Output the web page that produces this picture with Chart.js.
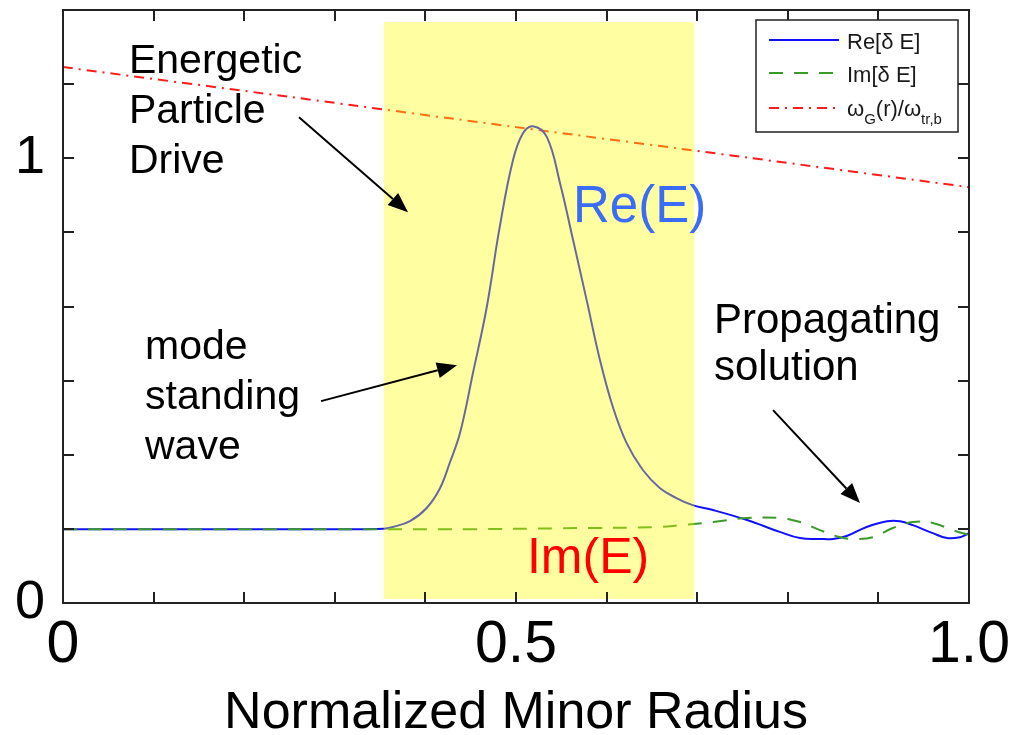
<!DOCTYPE html>
<html>
<head>
<meta charset="utf-8">
<script src="https://cdn.jsdelivr.net/npm/chart.js@4.4.1/dist/chart.umd.min.js"></script>
<style>
  html, body { margin: 0; padding: 0; background: #fff; }
  #wrap { width: 1021px; height: 735px; }
</style>
</head>
<body>
<div id="wrap"><canvas id="c" width="1021" height="735"></canvas></div>
<script>
// Radial profiles of the perturbed field and the drive frequency ratio
const reX = [0, 0.10, 0.20, 0.30, 0.354, 0.364, 0.383, 0.4014, 0.4161, 0.4272, 0.4382, 0.4525, 0.4677, 0.482, 0.4967, 0.5077, 0.5188, 0.534, 0.5486, 0.563, 0.578, 0.5927, 0.607, 0.622, 0.640, 0.659, 0.677, 0.695, 0.7174, 0.755, 0.791, 0.8135, 0.8355, 0.850, 0.865, 0.887, 0.9095, 0.924, 0.938, 0.960, 0.9757, 0.990, 1.0];
const reY = [0.166, 0.166, 0.166, 0.166, 0.167, 0.171, 0.184, 0.2135, 0.258, 0.317, 0.382, 0.517, 0.665, 0.845, 0.996, 1.056, 1.072, 1.048, 0.944, 0.816, 0.681, 0.546, 0.440, 0.360, 0.299, 0.258, 0.236, 0.220, 0.209, 0.1865, 0.160, 0.146, 0.144, 0.144, 0.1506, 0.171, 0.184, 0.184, 0.175, 0.157, 0.146, 0.148, 0.157];

const imX = [0, 0.15, 0.30, 0.45, 0.55, 0.659, 0.681, 0.7174, 0.755, 0.7914, 0.8135, 0.8355, 0.8576, 0.8764, 0.894, 0.916, 0.938, 0.960, 0.982, 1.0];
const imY = [0.166, 0.166, 0.166, 0.166, 0.168, 0.171, 0.175, 0.182, 0.191, 0.191, 0.182, 0.164, 0.148, 0.144, 0.148, 0.1685, 0.182, 0.180, 0.164, 0.153];

const omegaX = [0, 0.25, 0.5, 0.75, 1.0];
const omegaY = [1.205, 1.138, 1.070, 1.003, 0.935];

// Axis ticks and the few that carry labels
const xTickValues = [0, 0.1, 0.2, 0.3, 0.4, 0.5, 0.6, 0.7, 0.8, 0.9, 1.0];
const xLabelAt = [0, 0.5, 1.0];
const xLabelText = ['0', '0.5', '1.0'];
const yTickValues = [0, 1/6, 2/6, 3/6, 4/6, 5/6, 1, 7/6, 8/6];
const yLabelAt = [0, 1];
const yLabelText = ['0', '1'];

// Radial window where the energetic particles drive the mode
const driveRegion = [0.354, 0.697];
const driveSpan = [0.009, 1.306];

const seriesNames = ['Re[\u03b4 E]', 'Im[\u03b4 E]'];

const FONT = '"Liberation Sans", Arial, Helvetica, sans-serif';

const pairs = (xs, ys) => xs.map((x, i) => ({ x, y: ys[i] }));
const labelFor = (v, at, txt) => {
  const i = at.findIndex(a => Math.abs(a - v) < 1e-6);
  return i >= 0 ? txt[i] : '';
};

// Text callouts, anchored in data coordinates
const notes = [
  { lines: ['Energetic', 'Particle', 'Drive'], at: [0.0728, 1.191], size: 41, lh: 50, color: '#000' },
  { lines: ['mode', 'standing', 'wave'], at: [0.0905, 0.548], size: 41, lh: 50, color: '#000' },
  { lines: ['Propagating', 'solution'], at: [0.7185, 0.6067], size: 42, lh: 47, color: '#000' },
  { lines: ['Re(E)'], at: [0.5629, 0.856], size: 51, lh: 0, color: '#3b6cf6' },
  { lines: ['Im(E)'], at: [0.5121, 0.0674], size: 50, lh: 0, color: '#ff0000' }
];
const arrows = [
  { from: [0.2605, 1.092], to: [0.3808, 0.8787] },
  { from: [0.2848, 0.4539], to: [0.4349, 0.5348] },
  { from: [0.7837, 0.4337], to: [0.8797, 0.2247] }
];

function drawArrow(ctx, x1, y1, x2, y2) {
  const ang = Math.atan2(y2 - y1, x2 - x1);
  const hl = 20, hw = 8;
  const bx = x2 - hl * Math.cos(ang), by = y2 - hl * Math.sin(ang);
  ctx.beginPath();
  ctx.moveTo(x1, y1);
  ctx.lineTo(bx, by);
  ctx.lineWidth = 2;
  ctx.strokeStyle = '#000';
  ctx.stroke();
  ctx.beginPath();
  ctx.moveTo(x2, y2);
  ctx.lineTo(bx + hw * Math.sin(ang), by - hw * Math.cos(ang));
  ctx.lineTo(bx - hw * Math.sin(ang), by + hw * Math.cos(ang));
  ctx.closePath();
  ctx.fillStyle = '#000';
  ctx.fill();
}

const overlay = {
  id: 'overlay',
  afterDatasetsDraw(chart) {
    const { ctx, scales: { x, y } } = chart;
    const x0 = x.getPixelForValue(driveRegion[0]);
    const x1 = x.getPixelForValue(driveRegion[1]);
    const yT = y.getPixelForValue(driveSpan[1]);
    const yB = y.getPixelForValue(driveSpan[0]);
    ctx.save();
    ctx.fillStyle = 'rgba(255,255,0,0.37)';
    ctx.fillRect(x0, yT, x1 - x0, yB - yT);
    ctx.restore();
  },
  afterDraw(chart) {
    const { ctx, chartArea: a, scales: { x, y } } = chart;
    ctx.save();
    // box and inward ticks on all four sides
    ctx.strokeStyle = '#222';
    ctx.lineWidth = 2;
    ctx.strokeRect(a.left, a.top, a.right - a.left, a.bottom - a.top);
    const tl = 11;
    ctx.beginPath();
    xTickValues.slice(1, -1).forEach(v => {
      const px = Math.round(x.getPixelForValue(v));
      ctx.moveTo(px, a.bottom); ctx.lineTo(px, a.bottom - tl);
      ctx.moveTo(px, a.top); ctx.lineTo(px, a.top + tl);
    });
    yTickValues.slice(1, -1).forEach(v => {
      const py = Math.round(y.getPixelForValue(v));
      ctx.moveTo(a.left, py); ctx.lineTo(a.left + tl, py);
      ctx.moveTo(a.right, py); ctx.lineTo(a.right - tl, py);
    });
    ctx.stroke();

    // callouts
    ctx.textBaseline = 'alphabetic';
    ctx.textAlign = 'left';
    notes.forEach(n => {
      ctx.font = n.size + 'px ' + FONT;
      ctx.fillStyle = n.color;
      const px = x.getPixelForValue(n.at[0]);
      const py = y.getPixelForValue(n.at[1]);
      n.lines.forEach((t, i) => ctx.fillText(t, px, py + i * n.lh));
    });
    arrows.forEach(r => drawArrow(ctx,
      x.getPixelForValue(r.from[0]), y.getPixelForValue(r.from[1]),
      x.getPixelForValue(r.to[0]), y.getPixelForValue(r.to[1])));

    // legend box
    const lw = 202, lh = 112;
    const lx = a.right - 11 - lw, ly = a.top + 10;
    ctx.fillStyle = '#fff';
    ctx.fillRect(lx, ly, lw, lh);
    ctx.lineWidth = 1.5;
    ctx.strokeStyle = '#222';
    ctx.strokeRect(lx, ly, lw, lh);
    const rows = [20, 53, 88];
    chart.data.datasets.forEach((ds, i) => {
      const cy = ly + rows[i];
      ctx.beginPath();
      ctx.setLineDash(ds.borderDash || []);
      ctx.strokeStyle = ds.borderColor;
      ctx.lineWidth = 2;
      ctx.moveTo(lx + 13, cy);
      ctx.lineTo(lx + 83, cy);
      ctx.stroke();
      ctx.setLineDash([]);
    });
    ctx.fillStyle = '#1a1a1a';
    ctx.font = '22px ' + FONT;
    const tx = lx + 91;
    ctx.fillText(seriesNames[0], tx, ly + rows[0] + 9);
    ctx.fillText(seriesNames[1], tx, ly + rows[1] + 9);
    // omega_G(r)/omega_tr,b with subscripts
    let cx = tx;
    const by = ly + rows[2] + 8;
    const part = (t, sub) => {
      ctx.font = (sub ? 15 : 22) + 'px ' + FONT;
      ctx.fillText(t, cx, by + (sub ? 8 : 0));
      cx += ctx.measureText(t).width;
    };
    part('\u03c9', false); part('G', true); part('(r)/\u03c9', false); part('tr,b', true);
    ctx.restore();
  }
};

new Chart(document.getElementById('c'), {
  type: 'line',
  data: {
    datasets: [
      {
        label: seriesNames[0],
        data: pairs(reX, reY),
        borderColor: '#1010ff',
        borderWidth: 2,
        pointRadius: 0,
        tension: 0.4,
        fill: false,
        order: 1
      },
      {
        label: seriesNames[1],
        data: pairs(imX, imY),
        borderColor: '#3a9a2a',
        borderWidth: 2,
        borderDash: [14, 11],
        pointRadius: 0,
        tension: 0.4,
        fill: false,
        order: 0
      },
      {
        label: '\u03c9G(r)/\u03c9tr,b',
        data: pairs(omegaX, omegaY),
        borderColor: '#ff1a1a',
        borderWidth: 2,
        borderDash: [10, 6, 2, 6],
        pointRadius: 0,
        tension: 0.3,
        fill: false,
        order: 2
      }
    ]
  },
  options: {
    responsive: false,
    animation: false,
    devicePixelRatio: 1,
    layout: { padding: { top: 10, right: 52, bottom: 0, left: 0 } },
    plugins: { legend: { display: false }, tooltip: { enabled: false } },
    scales: {
      x: {
        type: 'linear',
        min: 0,
        max: 1,
        afterBuildTicks: s => { s.ticks = xTickValues.map(v => ({ value: v })); },
        afterFit: s => { s.height = 132; s.paddingLeft = 0; s.paddingRight = 0; },
        grid: { display: false, drawTicks: false },
        border: { display: true, color: '#222', width: 2 },
        ticks: {
          autoSkip: false,
          maxRotation: 0,
          padding: 7,
          color: '#000',
          font: { family: FONT, size: 59 },
          callback: v => labelFor(v, xLabelAt, xLabelText)
        },
        title: {
          display: true,
          text: 'Normalized Minor Radius',
          color: '#000',
          font: { family: FONT, size: 52, lineHeight: 1 },
          padding: { top: 0, bottom: -5 }
        }
      },
      y: {
        type: 'linear',
        min: 0,
        max: 8/6,
        afterBuildTicks: s => { s.ticks = yTickValues.map(v => ({ value: v })); },
        afterFit: s => { s.width = 63; s.paddingTop = 0; s.paddingBottom = 0; },
        grid: { display: false, drawTicks: false },
        border: { display: true, color: '#222', width: 2 },
        ticks: {
          autoSkip: false,
          padding: 18,
          color: '#000',
          font: { family: FONT, size: 54 },
          callback: v => labelFor(v, yLabelAt, yLabelText)
        }
      }
    }
  },
  plugins: [overlay]
});
</script>
</body>
</html>
